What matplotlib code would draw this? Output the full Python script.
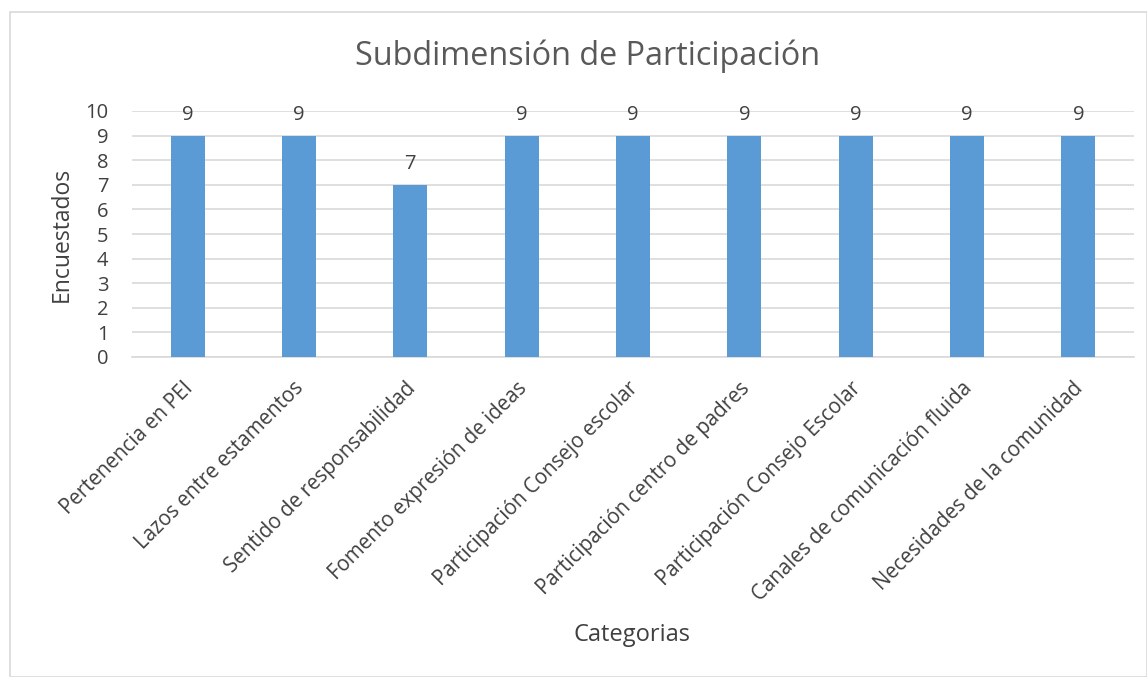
import matplotlib.pyplot as plt
from matplotlib.patches import Rectangle

# Data
categorias = [
    "Pertenencia en PEI",
    "Lazos entre estamentos",
    "Sentido de responsabilidad",
    "Fomento expresión de ideas",
    "Participación Consejo escolar",
    "Participación centro de padres",
    "Participación Consejo Escolar",
    "Canales de comunicación fluida",
    "Necesidades de la comunidad",
]
encuestados = [9, 9, 7, 9, 9, 9, 9, 9, 9]
y_ticks = list(range(0, 11))

plt.rcParams['font.family'] = ['Open Sans', 'DejaVu Sans']
text_color = '#404040'

fig = plt.figure(figsize=(11.47, 6.77), dpi=100)
W, H = 1147, 677

# light border around the chart area
fig.patches.append(Rectangle((10 / W, 0), (W - 10) / W, (H - 12) / H,
                             transform=fig.transFigure, fill=False,
                             edgecolor='#d9d9d9', linewidth=1.2))

ax = fig.add_axes([132 / W, 1 - 357 / H, (1134 - 132) / W, (357 - 111) / H])

x = range(len(categorias))
bars = ax.bar(x, encuestados, width=0.305, color='#5b9bd5', zorder=3)

for b, v in zip(bars, encuestados):
    ax.text(b.get_x() + b.get_width() / 2, v + 0.45, str(v),
            ha='center', va='bottom', fontsize=14.5, color=text_color)

ax.set_xlim(-0.5, len(categorias) - 0.5)
ax.set_ylim(0, 10)
ax.set_yticks(y_ticks)
ax.yaxis.grid(True, color='#d9d9d9', linewidth=1.2, zorder=0)
# labels sit a bit left of the bar centres, like in the original
ax.set_xticks([i - 0.05 for i in x])
ax.set_xticklabels(categorias, rotation=45, ha='right', rotation_mode='anchor',
                   fontsize=14.8, color=text_color)
ax.tick_params(axis='y', labelsize=14.5, labelcolor=text_color, length=0, pad=17)
ax.tick_params(axis='x', length=0, pad=15)

for s in ['top', 'right', 'left']:
    ax.spines[s].set_visible(False)
ax.spines['bottom'].set_color('#d9d9d9')
ax.spines['bottom'].set_linewidth(1.2)

fig.text(62 / W, 1 - 234 / H, 'Encuestados', rotation=90, ha='center',
         va='center', fontsize=16.5, color=text_color)
fig.text(632 / W, 1 - 635 / H, 'Categorias', ha='center', va='center',
         fontsize=17, color=text_color)
fig.text(588 / W, 1 - 56 / H, 'Subdimensión de Participación', ha='center',
         va='center', fontsize=23.3, color='#595959')

fig.savefig('out.png', dpi=100)
